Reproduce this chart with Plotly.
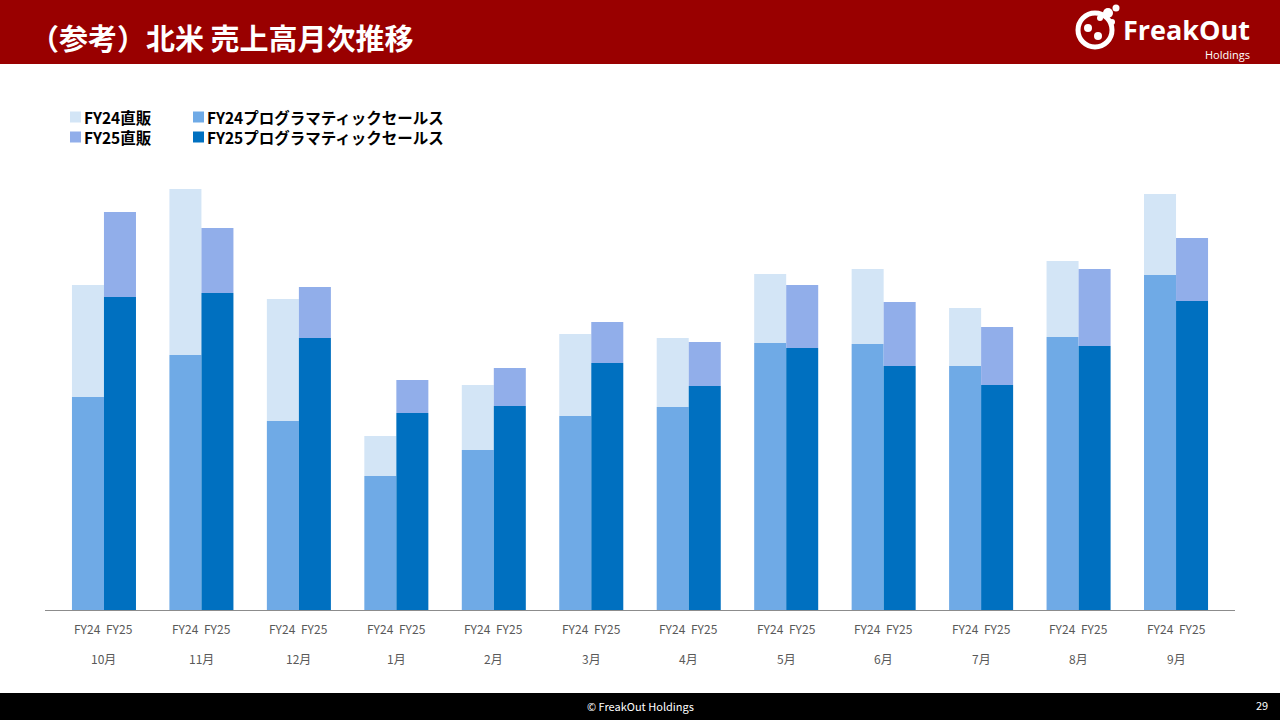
import plotly.graph_objects as go

months = ["10月", "11月", "12月", "1月", "2月", "3月", "4月", "5月", "6月", "7月", "8月", "9月"]
fy24_prog = [213, 255, 189, 134, 160, 194, 203, 267, 266, 244, 273, 335]
fy24_direct = [112, 166, 122, 40, 65, 82, 69, 69, 75, 58, 76, 81]
fy25_prog = [313, 317, 272, 197, 204, 247, 224, 262, 244, 225, 264, 309]
fy25_direct = [85, 65, 51, 33, 38, 41, 44, 63, 64, 58, 77, 63]
series_names = ["FY24直販", "FY24プログラマティックセールス", "FY25直販", "FY25プログラマティックセールス"]
fy_labels = ["FY24", "FY25"]

C24D, C24P, C25D, C25P = "#D3E5F6", "#6FAAE6", "#91AEEA", "#0070C0"
JP = "Noto Sans CJK JP"

x = list(range(len(months)))
fig = go.Figure()
fig.add_bar(x=x, y=fy24_prog, name=series_names[1], marker_color=C24P, offsetgroup="24")
fig.add_bar(x=x, y=fy24_direct, base=fy24_prog, name=series_names[0], marker_color=C24D, offsetgroup="24")
fig.add_bar(x=x, y=fy25_prog, name=series_names[3], marker_color=C25P, offsetgroup="25")
fig.add_bar(x=x, y=fy25_direct, base=fy25_prog, name=series_names[2], marker_color=C25D, offsetgroup="25")
fig.update_traces(marker_line_width=0, hoverinfo="skip")

shapes = [
    dict(type="rect", xref="paper", yref="paper", x0=0, x1=1, y0=1 - 64 / 720, y1=1,
         fillcolor="#990000", line_width=0, layer="below"),
    dict(type="rect", xref="paper", yref="paper", x0=0, x1=1, y0=0, y1=27 / 720,
         fillcolor="#000000", line_width=0, layer="below"),
]
annotations = []

def px(xp, yp):
    return xp / 1280, 1 - yp / 720

# title
tx, ty = px(28, 37)
annotations.append(dict(x=tx, y=ty, xref="paper", yref="paper", text="<b>（参考）北米 売上高月次推移</b>",
                        showarrow=False, xanchor="left", yanchor="middle",
                        font=dict(family=JP, size=29, color="white")))
# logo icon
cx, cy, r = 1095, 30, 17
shapes.append(dict(type="circle", xref="paper", yref="paper",
                   x0=(cx - r) / 1280, x1=(cx + r) / 1280, y0=1 - (cy + r) / 720, y1=1 - (cy - r) / 720,
                   line=dict(color="white", width=5)))
for dx, dy, rr in [(1108, 13, 5), (1116, 8, 3.5), (1100, 18, 3), (1088, 28, 4), (1098, 36, 4), (1112, 22, 3)]:
    shapes.append(dict(type="circle", xref="paper", yref="paper", fillcolor="white", line_width=0,
                       x0=(dx - rr) / 1280, x1=(dx + rr) / 1280, y0=1 - (dy + rr) / 720, y1=1 - (dy - rr) / 720))
lx, ly = px(1252, 30)
annotations.append(dict(x=lx, y=ly, xref="paper", yref="paper", text="<b>FreakOut</b>", showarrow=False,
                        xanchor="right", yanchor="middle", font=dict(family="Open Sans", size=27, color="white")))
hx, hy = px(1252, 55)
annotations.append(dict(x=hx, y=hy, xref="paper", yref="paper", text="Holdings", showarrow=False,
                        xanchor="right", yanchor="middle", font=dict(family="Open Sans", size=11, color="white")))
# footer
fx, fy = px(640, 706)
annotations.append(dict(x=fx, y=fy, xref="paper", yref="paper", text="© FreakOut Holdings", showarrow=False,
                        xanchor="center", yanchor="middle", font=dict(family=JP, size=11, color="white")))
nx, ny = px(1270, 705)
annotations.append(dict(x=nx, y=ny, xref="paper", yref="paper", text="29", showarrow=False,
                        xanchor="right", yanchor="middle", font=dict(family=JP, size=11, color="white")))

# legend (custom 2x2)
legend_items = [(series_names[0], C24D, 70, 117), (series_names[1], C24P, 193, 117),
                (series_names[2], C25D, 70, 137), (series_names[3], C25P, 193, 137)]
for name, col, lxp, lyp in legend_items:
    shapes.append(dict(type="rect", xref="paper", yref="paper", fillcolor=col, line_width=0,
                       x0=lxp / 1280, x1=(lxp + 11) / 1280, y0=1 - (lyp + 5.5) / 720, y1=1 - (lyp - 5.5) / 720))
    ax_, ay_ = px(lxp + 12, lyp)
    annotations.append(dict(x=ax_, y=ay_, xref="paper", yref="paper", text=f"<b>{name}</b>", showarrow=False,
                            xanchor="left", yanchor="middle", font=dict(family=JP, size=15.5, color="#000000")))

# category labels
off = 0.164
for i, m in enumerate(months):
    for j, lab in enumerate(fy_labels):
        annotations.append(dict(x=i + (off if j else -off), y=1 - 628 / 720, xref="x", yref="paper",
                                text=lab, showarrow=False, xanchor="center", yanchor="middle",
                                font=dict(family=JP, size=12, color="#595959")))
    annotations.append(dict(x=i, y=1 - 658 / 720, xref="x", yref="paper", text=m, showarrow=False,
                            xanchor="center", yanchor="middle", font=dict(family=JP, size=12, color="#595959")))

fig.update_layout(
    width=1280, height=720, margin=dict(l=0, r=0, t=0, b=0),
    paper_bgcolor="white", plot_bgcolor="white",
    barmode="group", bargap=0.343, bargroupgap=0, showlegend=False,
    xaxis=dict(domain=[45 / 1280, 1235 / 1280], range=[-0.605, 11.605], showticklabels=False,
               showgrid=False, zeroline=False, showline=True, linecolor="#8c8c8c", linewidth=1, ticks=""),
    yaxis=dict(domain=[(720 - 610) / 720, (720 - 170) / 720], range=[0, 440], visible=False),
    shapes=shapes, annotations=annotations,
)
fig.write_html("out.html")
